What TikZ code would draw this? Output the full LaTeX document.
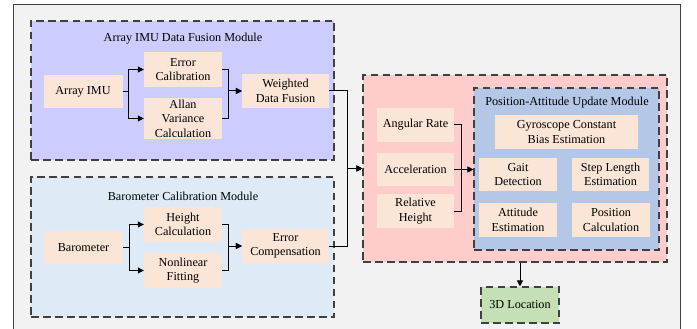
\documentclass[tikz,border=0pt]{standalone}
\usepackage{fontspec}
\setmainfont{Liberation Serif}
\usetikzlibrary{arrows.meta}
\definecolor{bgGray}{HTML}{F2F2F2}
\definecolor{imuPurple}{HTML}{CCCCFF}
\definecolor{baroBlue}{HTML}{DEEBF7}
\definecolor{fusePink}{HTML}{FFCCCC}
\definecolor{updBlue}{HTML}{B4C7E7}
\definecolor{blockPeach}{HTML}{FBE5D6}
\definecolor{locGreen}{HTML}{C5E0B4}
\begin{document}
\begin{tikzpicture}[
    x=1pt, y=-1pt,
    font=\fontsize{12.2}{14.5}\selectfont,
    block_style/.style={fill=blockPeach, align=center, inner sep=1pt},
    module_style/.style={draw=black!75, line width=1.1pt, dash pattern=on 7.5pt off 4.5pt},
    arrow_style/.style={line width=1pt, -{Triangle[length=6pt,width=6pt]}},
    line_style/.style={line width=1pt}
]
\useasboundingbox (0,0) rectangle (697,329);
% Outer frame
\fill[bgGray] (13,5) rectangle (680,335);
\draw[black!75, line width=1pt] (13,335) -- (13,5) -- (680,5) -- (680,335);
% Modules
\node[module_style, fill=imuPurple, minimum width=303pt, minimum height=139pt] (imu_mod) at (182.5,90.5) {};
\node[module_style, fill=baroBlue, minimum width=303pt, minimum height=140pt] (baro_mod) at (182.5,247) {};
\node[module_style, fill=fusePink, minimum width=304pt, minimum height=187pt] (red_mod) at (515,168.5) {};
\node[module_style, fill=updBlue, minimum width=185pt, minimum height=162pt] (upd_mod) at (566.5,169) {};
\node[module_style, fill=locGreen, minimum width=78pt, minimum height=36pt] (loc3d) at (520,305) {3D Location};
% Module titles
\node (imu_title) at (183,39) {Array IMU Data Fusion Module};
\node (baro_title) at (183,196) {Barometer Calibration Module};
\node (upd_title) at (567,103) {Position-Attitude Update Module};
% Array IMU Data Fusion Module
\node[block_style, minimum width=79pt, minimum height=33pt] (imu) at (83,91.5) {Array IMU};
\node[block_style, minimum width=78pt, minimum height=35pt] (errcal) at (183,69.5) {Error\\Calibration};
\node[block_style, minimum width=78pt, minimum height=41pt] (allan) at (183,118.5) {Allan\\Variance\\Calculation};
\node[block_style, minimum width=87pt, minimum height=34pt] (fusion) at (285.5,91) {Weighted\\Data Fusion};
% Barometer Calibration Module
\node[block_style, minimum width=79pt, minimum height=33pt] (baro) at (83.5,247.5) {Barometer};
\node[block_style, minimum width=78pt, minimum height=35pt] (height) at (183,224.5) {Height\\Calculation};
\node[block_style, minimum width=78pt, minimum height=35pt] (fitting) at (183,270.5) {Nonlinear\\Fitting};
\node[block_style, minimum width=87pt, minimum height=34pt] (comp) at (285.5,246) {Error\\Compensation};
% Inputs
\node[block_style, minimum width=77pt, minimum height=34pt] (angular) at (415.5,125) {Angular Rate};
\node[block_style, minimum width=77pt, minimum height=33pt] (accel) at (415.5,169.5) {Acceleration};
\node[block_style, minimum width=77pt, minimum height=34pt] (relh) at (415.5,211) {Relative\\Height};
% Position-Attitude Update Module
\node[block_style, minimum width=143pt, minimum height=34pt] (gyro) at (566.5,132) {Gyroscope Constant\\Bias Estimation};
\node[block_style, minimum width=78pt, minimum height=33pt] (gait) at (518,174.5) {Gait\\Detection};
\node[block_style, minimum width=77pt, minimum height=33pt] (steplen) at (610.5,174.5) {Step Length\\Estimation};
\node[block_style, minimum width=78pt, minimum height=34pt] (attitude) at (518,220) {Attitude\\Estimation};
\node[block_style, minimum width=78pt, minimum height=34pt] (poscalc) at (611,220) {Position\\Calculation};
% Connectors
\draw[arrow_style] (imu.east) -- ++(6,0) |- (errcal.west);
\draw[arrow_style] (imu.east) -- ++(6,0) |- (allan.west);
\draw[arrow_style] (errcal.east) -- ++(6,0) |- (fusion.west);
\draw[arrow_style] (allan.east) -- ++(6,0) |- (fusion.west);
\draw[arrow_style] (baro.east) -- ++(6,0) |- (height.west);
\draw[arrow_style] (baro.east) -- ++(6,0) |- (fitting.west);
\draw[arrow_style] (height.east) -- ++(6,0) |- (comp.west);
\draw[arrow_style] (fitting.east) -- ++(6,0) |- (comp.west);
\draw[arrow_style] (fusion.east) -- ++(18,0) |- (red_mod.west);
\draw[arrow_style] (comp.east) -- ++(18,0) |- (red_mod.west);
\draw[line_style] (angular.east) -- ++(7,0) |- (relh.east);
\draw[arrow_style] (accel.east) -- (accel.east -| upd_mod.west);
\draw[arrow_style] (loc3d.north |- red_mod.south) -- (loc3d.north);
\end{tikzpicture}
\end{document}
